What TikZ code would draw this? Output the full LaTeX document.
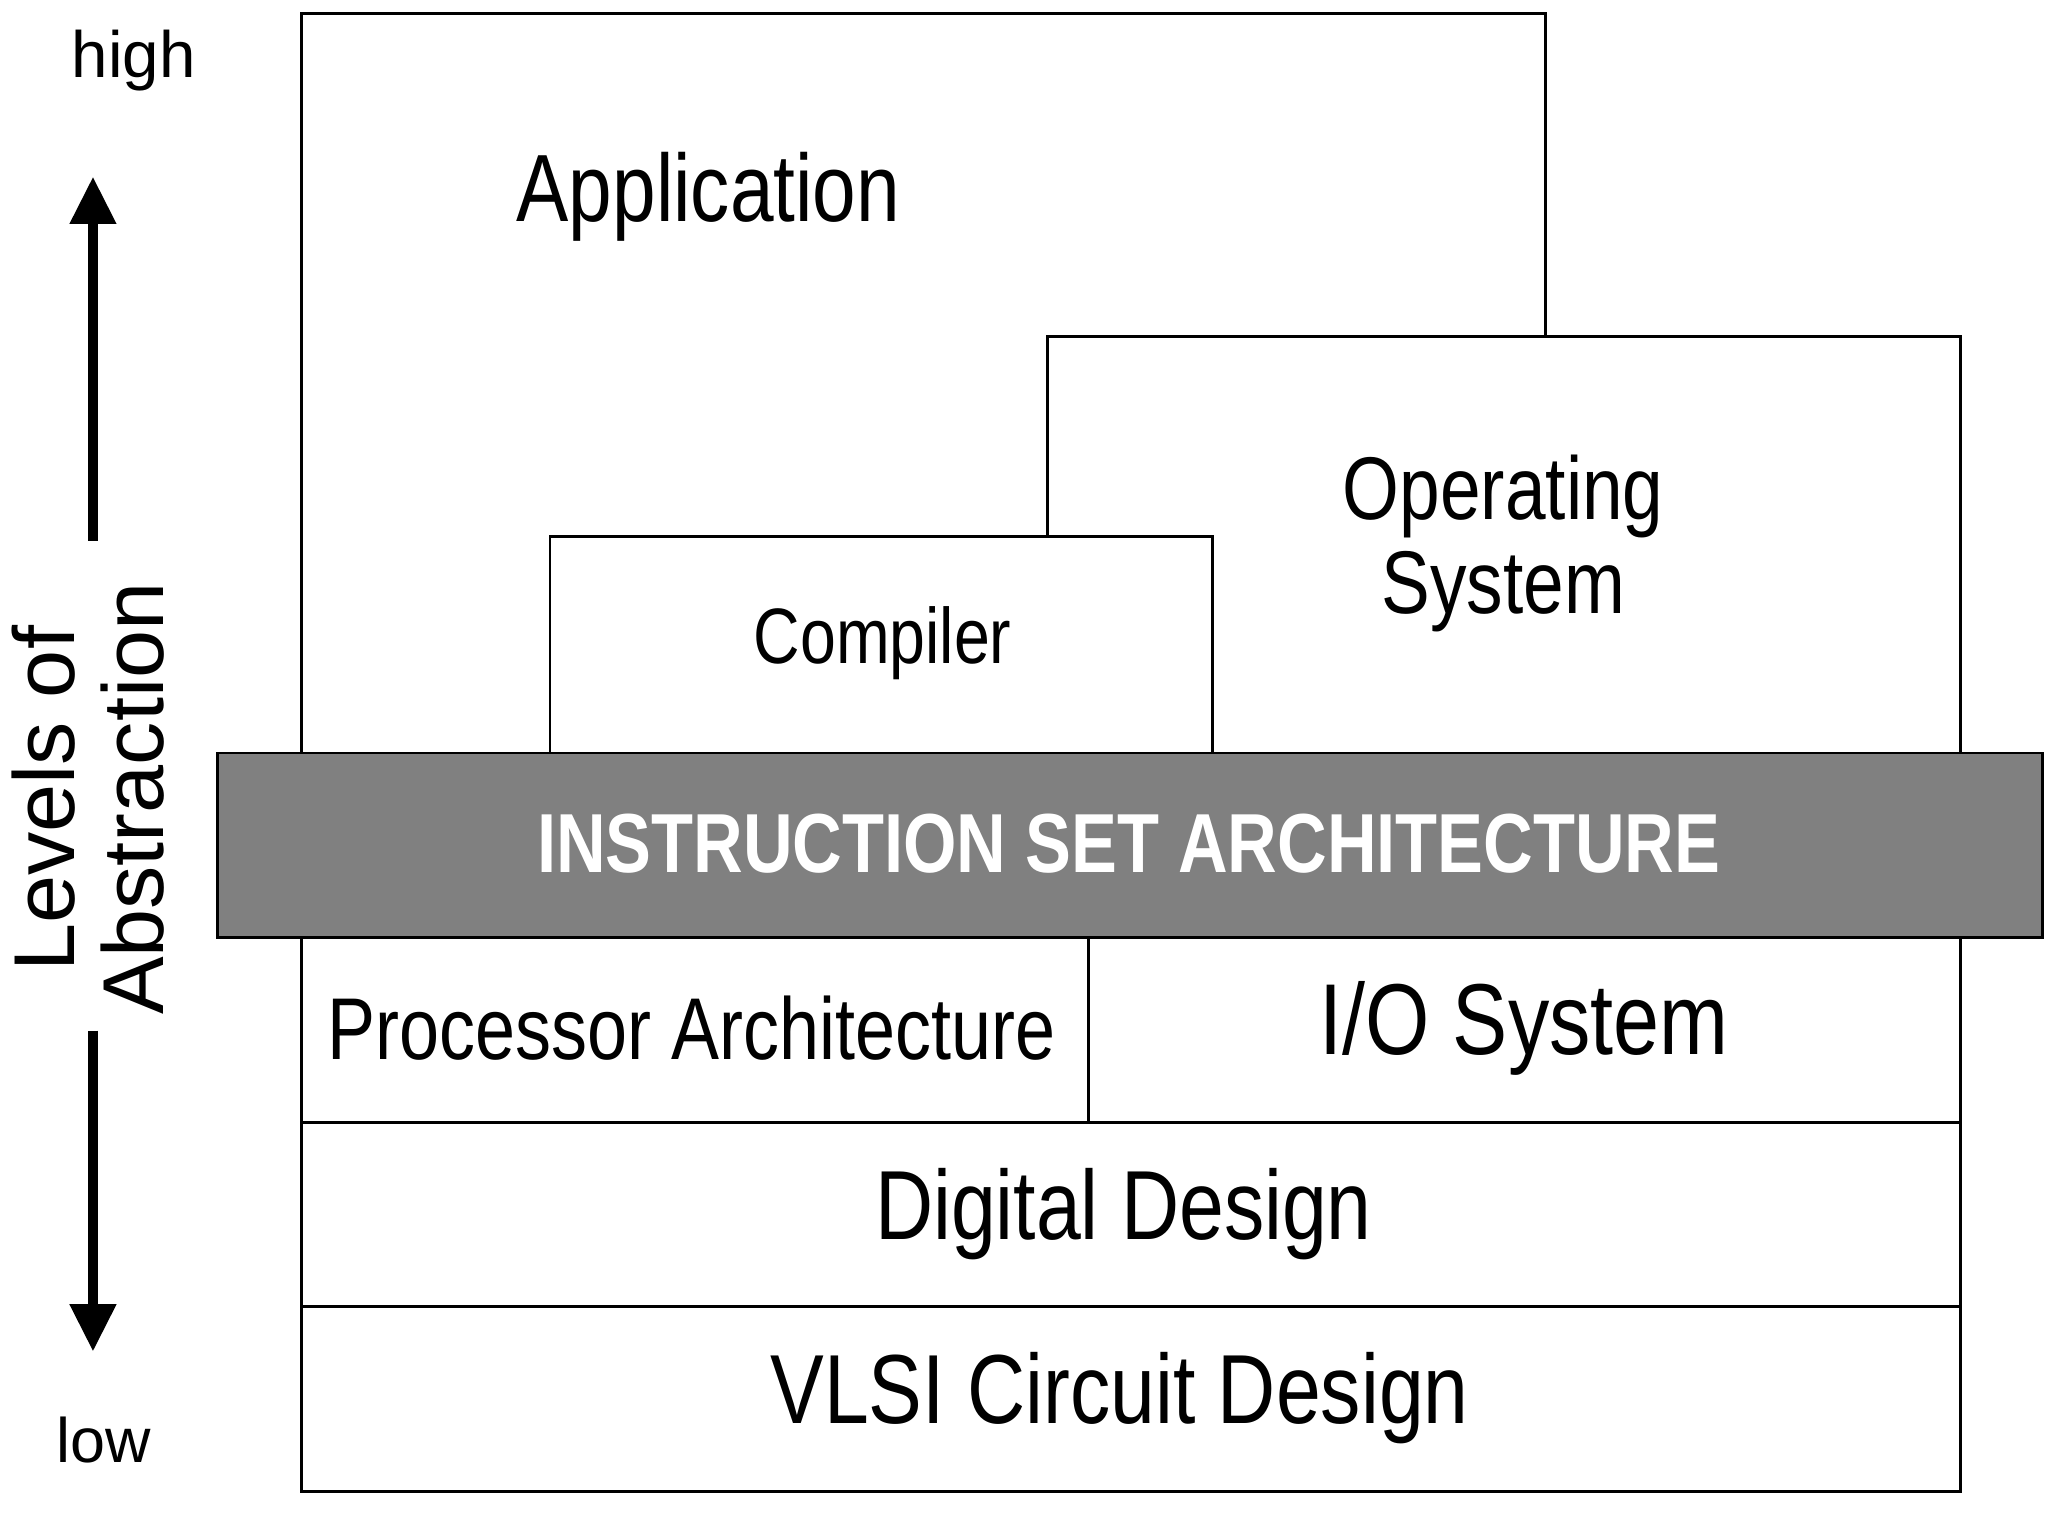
\documentclass[tikz,border=0pt]{standalone}
\usepackage{fontspec}
\setmainfont{Liberation Sans}[FakeStretch=0.82]
\newfontfamily\widefont{Liberation Sans}
\usetikzlibrary{arrows.meta}
\begin{document}
\begin{tikzpicture}[x=1pt,y=-1pt,
  box/.style={draw,line width=2.2pt,fill=white},
  lab/.style={inner sep=0pt,anchor=center},
  fs/.style={font=\fontsize{#1}{#1}\selectfont},
  wfs/.style={font=\widefont\fontsize{#1}{#1}\selectfont}]
\useasboundingbox (0,0) rectangle (1564,1173);
\fill[white] (0,0) rectangle (1564,1173);
% Application
\draw[line width=2.2pt] (230,575) -- (230,10) -- (1180,10) -- (1180,257);
\node[lab,fs=73] (app) at (541,150) {Application};
\draw[box] (800,257) rectangle (1497,575);
\node[lab,fs=68,align=center] (os) at (1148,415) {Operating\\[4pt]System};
\draw[box] (420,410) rectangle (926,575);
\node[lab,fs=60] (comp) at (674,491) {Compiler};
% ISA
\draw[line width=2.2pt,fill={rgb,255:red,128;green,128;blue,128}] (166,575) rectangle (1560,716);
\node[lab,text=white,font={\fontsize{64}{64}\selectfont\bfseries}] (isa) at (862,644) {INSTRUCTION SET ARCHITECTURE};
\draw[box] (230,716) rectangle (831,857);
\node[lab,fs=67] (proc) at (528,785) {Processor Architecture};
\draw[box] (831,716) rectangle (1497,857);
\node[lab,fs=77] (io) at (1164,785) {I/O System};
\draw[box] (230,857) rectangle (1497,998);
\node[lab,fs=75] (dd) at (858,927) {Digital Design};
\draw[box] (230,998) rectangle (1497,1139);
\node[lab,fs=75] (vlsi) at (855,1068) {VLSI Circuit Design};
% axis
\coordinate (u0) at (71,413); \coordinate (u1) at (71,135);
\coordinate (d0) at (71,787); \coordinate (d1) at (71,1032);
\draw[line width=7pt,-{Triangle[width=34pt,length=36pt]}] (u0) -- (u1);
\draw[line width=7pt,-{Triangle[width=34pt,length=36pt]}] (d0) -- (d1);
\node[lab,wfs=66,rotate=90,align=center] (lev) at (67,610) {Levels of\\[2pt]Abstraction};
\node[lab,wfs=50] (hi) at (102,46) {high};
\node[lab,wfs=48] (lo) at (79,1100) {low};
\end{tikzpicture}
\end{document}
